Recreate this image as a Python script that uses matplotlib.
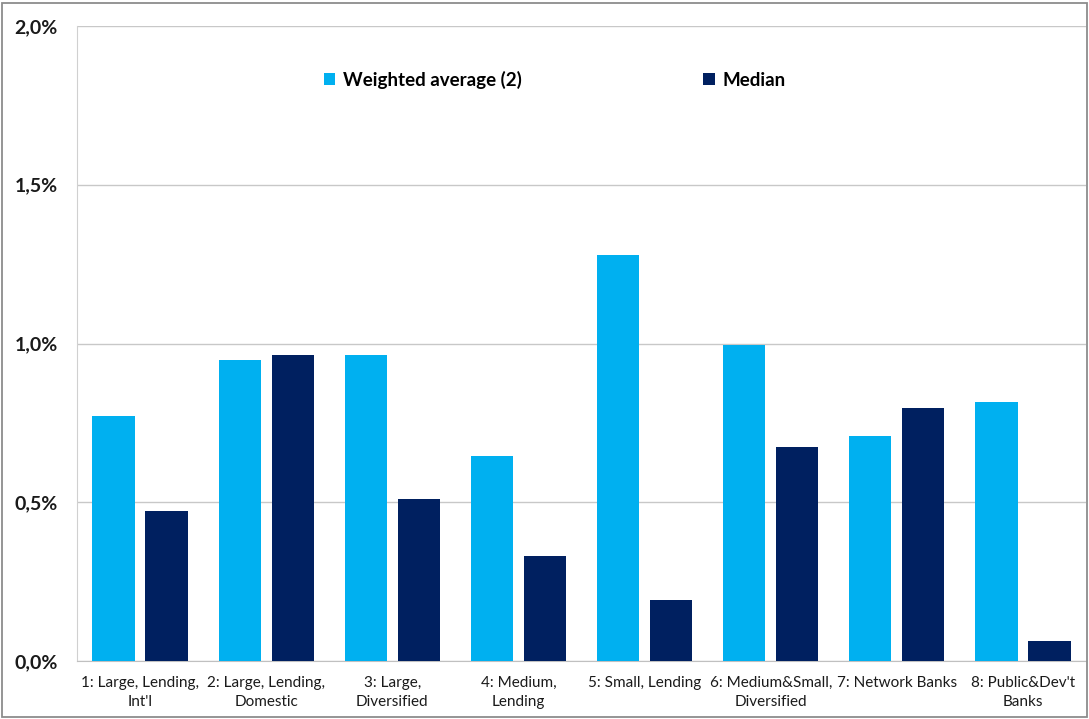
import matplotlib
matplotlib.use("Agg")
import matplotlib.pyplot as plt
from matplotlib.patches import Rectangle
import numpy as np

categories = [
    "1: Large, Lending,\nInt'l",
    "2: Large, Lending,\nDomestic",
    "3: Large,\nDiversified",
    "4: Medium,\nLending",
    "5: Small, Lending",
    "6: Medium&Small,\nDiversified",
    "7: Network Banks",
    "8: Public&Dev't\nBanks",
]
weighted_average = [0.772, 0.948, 0.964, 0.646, 1.279, 0.995, 0.709, 0.816]
median = [0.472, 0.964, 0.510, 0.331, 0.192, 0.674, 0.797, 0.063]
y_ticks = [0.0, 0.5, 1.0, 1.5, 2.0]
y_tick_labels = ["0,0%", "0,5%", "1,0%", "1,5%", "2,0%"]
series_names = ["Weighted average (2)", "Median"]

light_blue = "#00B0F0"
navy = "#002060"

plt.rcParams["font.family"] = ["Lato", "DejaVu Sans"]

fig = plt.figure(figsize=(10.89, 7.19), dpi=100)
ax = fig.add_axes([77 / 1089, 1 - 661 / 719, (1086 - 77) / 1089, (661 - 26) / 719])

x = np.arange(len(categories))
w = 0.335
off = 0.21
ax.bar(x - off, weighted_average, width=w, color=light_blue, label=series_names[0], zorder=3)
ax.bar(x + off, median, width=w, color=navy, label=series_names[1], zorder=3)

ax.set_xlim(-0.5, len(categories) - 0.5)
ax.set_ylim(0, 2.0)
ax.set_yticks(y_ticks)
ax.set_yticklabels(y_tick_labels, fontsize=14, fontweight="bold", color="#1a1a1a")
ax.set_xticks(x)
ax.set_xticklabels(categories, fontsize=11, color="#1a1a1a", linespacing=1.4)
ax.tick_params(axis="both", length=0)
ax.tick_params(axis="y", pad=14)
ax.tick_params(axis="x", pad=11)

ax.yaxis.grid(True, color="#c8c8c8", linewidth=1, zorder=0)
for side in ["top", "right"]:
    ax.spines[side].set_visible(False)
ax.spines["left"].set_color("#d0d0d0")
ax.spines["bottom"].set_color("#c0c0c0")

leg = ax.legend(
    loc="center left", bbox_to_anchor=(230 / 1009, 1 - 54 / 635), ncol=2,
    frameon=False, prop={"weight": "bold", "size": 13.5},
    handlelength=0.6, handleheight=0.6, handletextpad=0.4, columnspacing=9.7,
)

# outer chart border
fig.patches.append(Rectangle((2 / 1089, 2 / 719), 1085 / 1089, 714 / 719,
                             transform=fig.transFigure, fill=False,
                             edgecolor="#8c8c8c", linewidth=1.3))

fig.savefig("out.png", dpi=100)
